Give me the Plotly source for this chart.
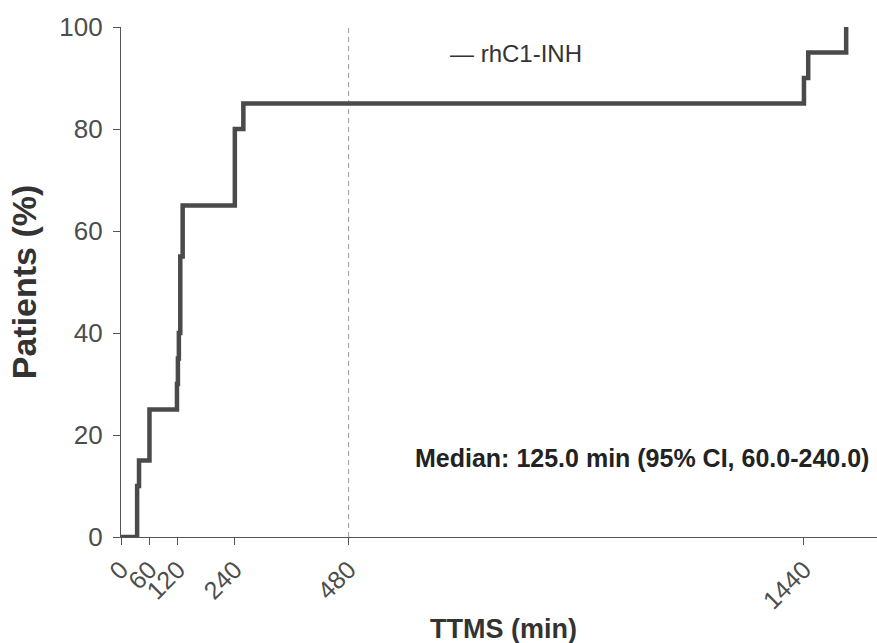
import plotly.graph_objects as go

# Cumulative proportion of patients reaching TTMS (step curve)
ttms_min = [0, 34, 38, 60, 118, 120, 122, 125, 130, 240, 258, 1440, 1449, 1529]
patients_pct = [0, 10, 15, 25, 30, 35, 40, 55, 65, 80, 85, 90, 95, 100]

x_tick_vals = [0, 60, 120, 240, 480, 1440]
x_tick_text = ["0", "60", "120", "240", "480", "1440"]
y_tick_vals = [0, 20, 40, 60, 80, 100]

series_name = "rhC1-INH"
median_label = "Median: 125.0 min (95% CI, 60.0-240.0)"
reference_time = 480
x_max = 1594

FONT = "Liberation Sans, Arial, sans-serif"
LINE_COLOR = "#4a4a4a"
AXIS_COLOR = "#555555"

fig = go.Figure()
fig.add_trace(
    go.Scatter(
        x=ttms_min,
        y=patients_pct,
        mode="lines",
        line=dict(shape="hv", color=LINE_COLOR, width=4.5),
        name=series_name,
        showlegend=False,
        hoverinfo="x+y",
    )
)

# Vertical dashed reference line at 480 min
fig.add_shape(
    type="line",
    xref="x", yref="paper",
    x0=reference_time, x1=reference_time, y0=0, y1=1,
    line=dict(color="#9a9a9a", width=1, dash="5px,4px"),
    layer="below",
)

# Series key
fig.add_annotation(
    xref="paper", yref="paper", x=0.433, y=0.949,
    xanchor="left", yanchor="middle", showarrow=False,
    text="\u2014 " + series_name,
    font=dict(family=FONT, size=24, color="#333333"),
)

# Median summary
fig.add_annotation(
    xref="paper", yref="paper", x=0.992, y=0.155,
    xanchor="right", yanchor="middle", showarrow=False,
    text="<b>" + median_label + "</b>",
    font=dict(family=FONT, size=25, color="#222222"),
)

# Axis titles
fig.add_annotation(
    xref="paper", yref="paper", x=-0.128, y=0.50,
    xanchor="center", yanchor="middle", showarrow=False, textangle=-90,
    text="<b>Patients (%)</b>",
    font=dict(family=FONT, size=34, color="#333333"),
)
fig.add_annotation(
    xref="paper", yref="paper", x=0.506, y=-0.180,
    xanchor="center", yanchor="middle", showarrow=False,
    text="<b>TTMS (min)</b>",
    font=dict(family=FONT, size=27, color="#333333"),
)

fig.update_layout(
    width=877, height=643,
    margin=dict(l=121, r=0, t=27, b=106),
    paper_bgcolor="white", plot_bgcolor="white",
    font=dict(family=FONT, color=AXIS_COLOR),
    xaxis=dict(
        range=[0, x_max],
        tickmode="array", tickvals=x_tick_vals, ticktext=x_tick_text,
        tickangle=-45,
        ticks="outside", ticklen=7, tickwidth=1, tickcolor=AXIS_COLOR,
        showline=True, linecolor=AXIS_COLOR, linewidth=1.2,
        showgrid=False, zeroline=False,
        tickfont=dict(family=FONT, size=25, color="#4d4d4d"),
    ),
    yaxis=dict(
        range=[0, 100],
        tickmode="array", tickvals=y_tick_vals,
        ticks="outside", ticklen=7, tickwidth=1, tickcolor=AXIS_COLOR,
        ticklabelstandoff=5,
        showline=True, linecolor=AXIS_COLOR, linewidth=1.2,
        showgrid=False, zeroline=False,
        tickfont=dict(family=FONT, size=26, color="#4d4d4d"),
    ),
)

fig.write_html("out.html")
